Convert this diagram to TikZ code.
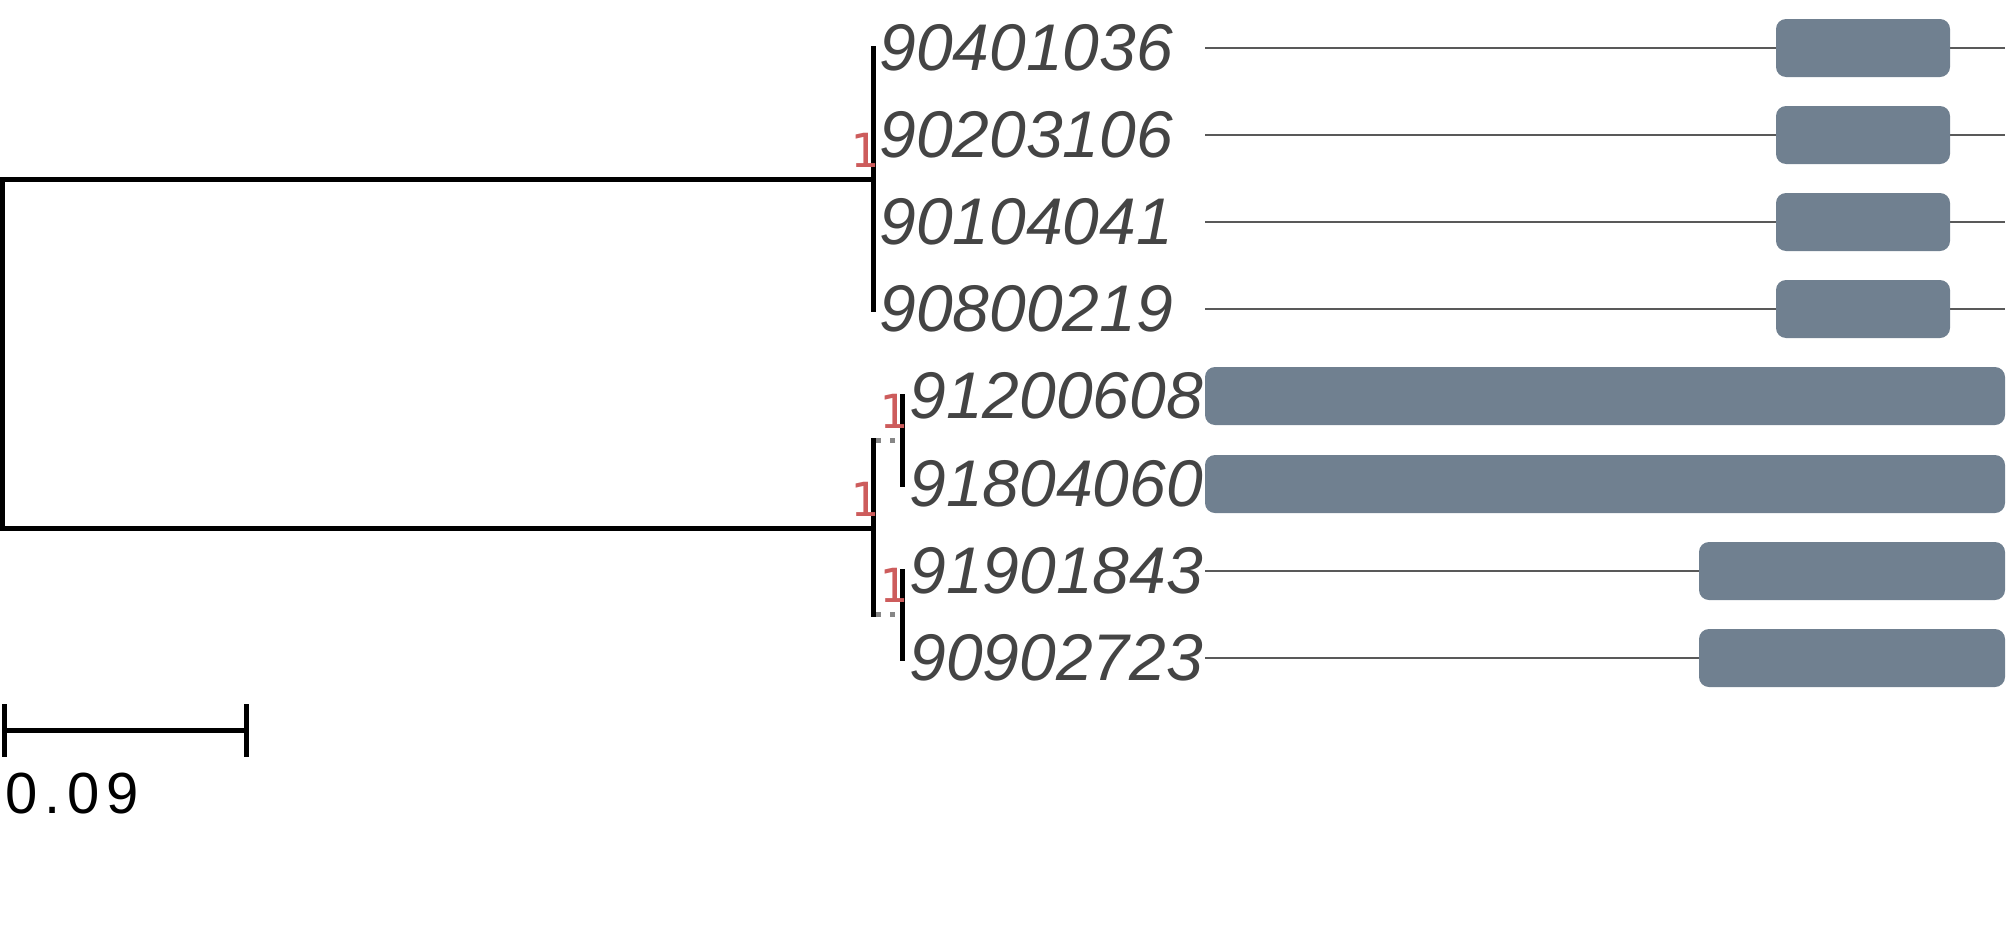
\documentclass[tikz,border=0pt]{standalone}
\usepackage{fontspec}
\setmainfont{Liberation Sans}
\newfontfamily\supfont{DejaVu Sans Mono}
\usetikzlibrary{calc}
\definecolor{boxgray}{HTML}{708090}
\definecolor{supred}{HTML}{CD5C5C}
\definecolor{labgray}{HTML}{444444}

\begin{document}
\begin{tikzpicture}[x=0.5pt,y=-0.5pt,
    branch/.style={line width=2.5pt,line cap=rect},
    dotline/.style={line width=2.5pt,gray!95,dash pattern=on 2.5pt off 4.5pt},
    track/.style={line width=0.8pt,black!65},
    dombox/.style={boxgray,rounded corners=5pt},
    leaf/.style={anchor=west,inner sep=0pt,text=labgray,
      font=\fontsize{33pt}{40pt}\selectfont\itshape},
    suplab/.style={anchor=base east,inner sep=0pt,text=supred,xshift=3pt,yshift=6pt,
      font=\fontsize{23.5pt}{28pt}\supfont}]
    \useasboundingbox (0,0) rectangle (2007,948);
    % leaves
    \node[leaf] (l1) at (879,48)  {90401036};
    \node[leaf] (l2) at (879,135) {90203106};
    \node[leaf] (l3) at (879,222) {90104041};
    \node[leaf] (l4) at (879,309) {90800219};
    \node[leaf] (l5) at (909,396) {91200608};
    \node[leaf] (l6) at (909,484) {91804060};
    \node[leaf] (l7) at (909,571) {91901843};
    \node[leaf] (l8) at (909,658) {90902723};
    % internal nodes
    \coordinate (r) at (2.5,353);
    \coordinate (A) at (873,179);
    \coordinate (B) at (873,528);
    \coordinate (C) at (902,440);
    \coordinate (D) at (902,614);
    \draw[branch] (A) -- (A -| r) -- (B -| r) -- (B);
    \draw[branch] (l1.west -| A) -- (l4.west -| A);
    \draw[branch] (C -| B) -- (D -| B);
    \draw[dotline] ($(C -| B)+(3,0)$) -- (C);
    \draw[dotline] ($(D -| B)+(3,0)$) -- (D);
    \draw[branch] (l5.west -| C) -- (l6.west -| C);
    \draw[branch] (l7.west -| D) -- (l8.west -| D);
    \node[suplab] (sA) at (A) {1};
    \node[suplab] (sB) at (B) {1};
    \node[suplab] (sC) at (C) {1};
    \node[suplab] (sD) at (D) {1};
    % domains
    \foreach \y/\xa in {48/2005,135/2005,222/2005,309/2005,571/1700,658/1700}
      \draw[track] (1205,\y) -- (\xa,\y);
    \foreach \y in {48,135,222,309}
      \fill[dombox] (1776,\y-29) rectangle (1950,\y+29);
    \foreach \y in {396,484}
      \fill[dombox] (1205,\y-29) rectangle (2005,\y+29);
    \foreach \y in {571,658}
      \fill[dombox] (1699,\y-29) rectangle (2005,\y+29);
    % scale bar
    \coordinate (sa) at (4,730);
    \coordinate (sb) at (246,730);
    \draw[branch,line cap=butt] (sa) -- (sb);
    \draw[branch,line cap=butt] ($(sa)+(0,-26)$) -- ($(sa)+(0,27)$);
    \draw[branch,line cap=butt] ($(sb)+(0,-26)$) -- ($(sb)+(0,27)$);
    \node[anchor=base west,inner sep=0pt,
      font=\fontsize{29pt}{34pt}\selectfont\addfontfeature{LetterSpace=12}] (st) at (5,813) {0.09};
\end{tikzpicture}
\end{document}
